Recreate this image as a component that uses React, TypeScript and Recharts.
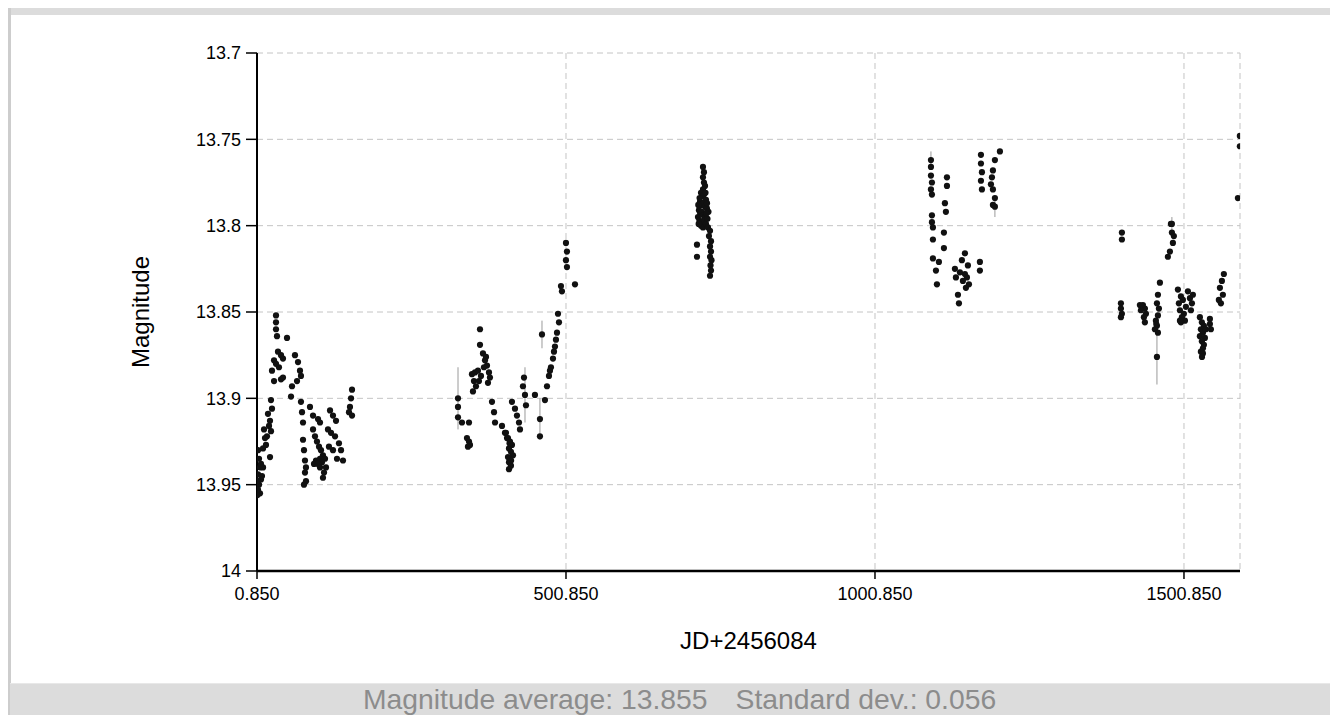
import React from 'react';
import { ScatterChart, Scatter, XAxis, YAxis, CartesianGrid, ErrorBar, Label } from 'recharts';

const FONT = '"Liberation Sans", Arial, Helvetica, sans-serif';

type P = [number, number];

// Season 1 (JD offset, magnitude)
const season1: P[] = [
  [31.6, 13.852], [31.6, 13.856], [31.6, 13.86], [33.2, 13.864], [49.4, 13.865],
  [28.4, 13.878], [34.8, 13.873], [39.7, 13.875], [42.9, 13.877], [31.6, 13.88], [36.4, 13.882],
  [62.3, 13.875], [67.2, 13.879], [70.4, 13.884], [65.6, 13.89], [72.0, 13.887],
  [25.1, 13.884], [28.4, 13.89], [39.7, 13.889], [42.9, 13.888],
  [57.5, 13.893], [55.9, 13.899],
  [23.5, 13.901], [25.1, 13.906],
  [72.0, 13.902], [73.7, 13.908], [75.3, 13.914],
  [18.6, 13.909], [21.9, 13.913], [20.3, 13.916], [23.5, 13.919], [17.0, 13.922],
  [12.2, 13.918], [13.8, 13.923], [15.4, 13.927], [10.6, 13.929],
  [2.5, 13.93], [4.1, 13.935], [5.7, 13.94], [2.5, 13.944], [7.3, 13.947], [4.1, 13.95],
  [2.5, 13.953], [5.7, 13.955], [8.9, 13.945], [7.3, 13.938], [10.6, 13.94], [1.2, 13.948], [1.5, 13.956],
  [21.9, 13.934],
  [75.3, 13.924], [76.9, 13.93], [78.5, 13.936], [80.1, 13.94],
  [78.5, 13.943], [80.1, 13.948], [76.9, 13.95],
  [86.6, 13.905], [91.5, 13.91], [99.6, 13.912], [102.8, 13.914],
  [91.5, 13.918], [94.7, 13.922], [97.9, 13.925], [101.2, 13.928], [104.4, 13.93], [107.6, 13.933],
  [96.3, 13.936], [102.8, 13.935], [110.9, 13.935], [93.1, 13.938], [106.0, 13.937], [99.6, 13.938],
  [112.5, 13.94], [102.8, 13.94], [109.3, 13.943], [107.6, 13.946],
  [119.0, 13.907], [123.8, 13.91], [128.7, 13.913], [115.7, 13.918], [120.6, 13.92], [127.1, 13.922],
  [133.5, 13.926], [123.8, 13.93], [136.8, 13.93], [130.3, 13.935], [140.0, 13.936], [117.3, 13.928],
  [154.6, 13.895], [153.0, 13.9], [151.3, 13.905], [149.7, 13.908], [154.6, 13.91],
];

// Season 2
const season2: P[] = [
  [326.1, 13.905], [326.1, 13.911], [332.5, 13.914],
  [343.9, 13.914], [340.6, 13.923], [343.9, 13.925], [345.5, 13.927], [342.2, 13.928],
  [348.7, 13.886], [351.9, 13.89], [355.2, 13.893], [350.3, 13.896], [353.6, 13.885],
  [358.4, 13.884], [363.3, 13.887], [360.0, 13.89],
  [361.7, 13.86], [361.7, 13.869],
  [366.5, 13.874], [369.8, 13.878], [373.0, 13.881], [376.2, 13.885], [368.1, 13.882], [377.8, 13.888], [371.4, 13.876],
  [374.6, 13.891],
  [381.1, 13.902], [384.4, 13.908], [386.0, 13.914],
  [397.3, 13.916], [402.1, 13.92], [405.4, 13.923],
  [403.7, 13.92], [407.0, 13.923], [410.2, 13.925], [413.4, 13.927], [408.6, 13.929], [411.8, 13.931],
  [415.1, 13.933], [410.2, 13.935], [408.6, 13.937], [411.8, 13.939], [408.6, 13.941], [407.0, 13.934],
  [412.0, 13.936], [409.5, 13.926],
  [413.4, 13.902], [418.3, 13.906], [421.5, 13.91], [424.8, 13.914], [426.4, 13.918],
  [432.9, 13.888], [436.1, 13.904], [431.2, 13.893],
  [450.6, 13.898],
  [458.7, 13.922],
  [466.8, 13.901], [470.1, 13.893], [473.3, 13.887], [476.5, 13.882], [479.8, 13.877], [474.9, 13.884], [481.4, 13.873],
  [484.6, 13.866], [486.3, 13.862], [483.0, 13.87],
  [487.9, 13.851], [489.5, 13.856],
  [492.7, 13.835], [494.3, 13.838],
  [500.8, 13.81], [502.4, 13.815], [500.8, 13.82], [502.4, 13.824],
  [515.4, 13.834],
];

// Season 3
const season3: P[] = [
  [722.5, 13.766], [724.1, 13.769], [722.5, 13.772], [724.1, 13.775], [725.8, 13.777], [722.5, 13.779],
  [719.3, 13.781], [720.9, 13.783], [724.1, 13.782], [727.4, 13.785], [717.7, 13.786], [719.3, 13.788],
  [722.5, 13.787], [725.8, 13.789], [728.9, 13.79], [716.0, 13.791], [718.0, 13.793], [720.9, 13.792],
  [723.3, 13.794], [726.0, 13.795], [714.4, 13.795], [716.8, 13.797], [720.0, 13.798], [724.1, 13.797],
  [719.3, 13.8], [722.5, 13.801], [727.4, 13.799], [730.6, 13.801], [733.9, 13.803], [732.2, 13.806],
  [735.5, 13.809], [733.9, 13.812], [735.5, 13.815], [733.9, 13.818], [736.3, 13.82], [734.7, 13.823],
  [735.5, 13.826], [733.9, 13.829], [712.8, 13.811], [712.8, 13.818], [731.4, 13.792], [729.8, 13.796],
  [714.9, 13.788], [717.0, 13.784], [726.6, 13.781], [729.0, 13.787], [715.5, 13.799], [728.2, 13.793],
];

// Season 4
const season4: P[] = [
  [1091.4, 13.766], [1091.4, 13.771], [1093.0, 13.775], [1091.4, 13.779], [1093.0, 13.782],
  [1093.0, 13.794], [1093.0, 13.798], [1094.6, 13.801], [1094.6, 13.808],
  [1094.6, 13.819], [1104.3, 13.821], [1099.5, 13.826], [1101.1, 13.834],
  [1117.3, 13.772], [1117.3, 13.777], [1114.0, 13.787], [1115.6, 13.792],
  [1112.4, 13.804], [1112.4, 13.813],
  [1146.4, 13.816], [1141.5, 13.82], [1151.2, 13.823], [1130.2, 13.825], [1138.3, 13.827], [1149.6, 13.83],
  [1131.8, 13.83], [1143.1, 13.832], [1152.9, 13.834], [1135.1, 13.84], [1136.7, 13.845], [1146.4, 13.828],
  [1148.0, 13.836],
  [1170.6, 13.821], [1170.6, 13.826],
  [1172.3, 13.759], [1172.3, 13.764], [1173.9, 13.769], [1172.3, 13.774], [1173.9, 13.779],
  [1194.9, 13.762], [1191.7, 13.768], [1190.1, 13.772], [1188.5, 13.776], [1191.7, 13.779], [1194.9, 13.784],
  [1191.7, 13.788],
  [1203.0, 13.757],
];

// Season 5
const season5: P[] = [
  [1400.4, 13.804], [1400.4, 13.808],
  [1398.8, 13.845], [1398.8, 13.848], [1400.4, 13.851], [1398.8, 13.853],
  [1429.5, 13.846], [1434.4, 13.846], [1437.6, 13.848], [1431.2, 13.849], [1439.3, 13.851], [1436.0, 13.853], [1437.6, 13.856],
  [1461.9, 13.833], [1458.7, 13.84], [1457.1, 13.845], [1460.3, 13.848], [1458.7, 13.852], [1455.4, 13.855],
  [1457.1, 13.858], [1453.8, 13.86], [1458.7, 13.862], [1456.0, 13.857],
  [1479.7, 13.799], [1481.3, 13.804], [1484.5, 13.806], [1482.9, 13.81], [1478.1, 13.815], [1474.8, 13.818],
  [1491.0, 13.837], [1495.9, 13.841], [1492.6, 13.845], [1499.1, 13.843], [1494.3, 13.849], [1500.7, 13.851],
  [1497.5, 13.853], [1504.0, 13.847], [1507.2, 13.838], [1510.5, 13.842], [1513.7, 13.845], [1512.1, 13.849],
  [1502.4, 13.855], [1495.9, 13.856], [1515.3, 13.84], [1494.3, 13.855],
  [1526.6, 13.853], [1529.8, 13.856], [1533.1, 13.858], [1528.2, 13.86], [1531.5, 13.862], [1526.6, 13.864],
  [1534.7, 13.865], [1529.8, 13.867], [1533.1, 13.869], [1531.5, 13.871], [1528.2, 13.873], [1531.5, 13.874],
  [1536.3, 13.86], [1530.0, 13.876],
  [1542.8, 13.854], [1542.8, 13.857], [1544.4, 13.86],
  [1565.4, 13.828], [1562.2, 13.832], [1559.0, 13.836], [1563.8, 13.84], [1557.3, 13.843], [1560.6, 13.845],
  [1591.3, 13.748], [1591.3, 13.754], [1588.1, 13.784],
];

// Points drawn with visible error bars: [JD, magnitude, error]
const errorPoints: [number, number, number][] = [
  [326.1, 13.9, 0.018],
  [434.5, 13.898, 0.016],
  [458.7, 13.912, 0.012],
  [462.0, 13.863, 0.008],
  [1091.4, 13.762, 0.005],
  [1194.9, 13.789, 0.006],
  [1457.1, 13.876, 0.016],
  [1481.3, 13.799, 0.004],
];

const xTicks = [0.85, 500.85, 1000.85, 1500.85];
const yTicks = [13.7, 13.75, 13.8, 13.85, 13.9, 13.95, 14];
const xDomain: [number, number] = [0.85, 1591.5];
const yDomain: [number, number] = [13.7, 14];
const xLabel = 'JD+2456084';
const yLabel = 'Magnitude';
const statAverage = 'Magnitude average: 13.855';
const statStd = 'Standard dev.: 0.056';

const points = [...season1, ...season2, ...season3, ...season4, ...season5].map(([x, y]) => ({ x, y }));
const errRows = errorPoints.map(([x, y, err]) => ({ x, y, err }));

const Dot = (p: any) => <circle cx={p.cx} cy={p.cy} r={3.1} fill="#111" />;

export default function App() {
  return (
    <div style={{ position: 'relative', width: 1330, height: 707, overflow: 'hidden', background: '#fff', fontFamily: FONT }}>
      <div style={{ position: 'absolute', left: 0, top: 0 }}>
        <ScatterChart width={1330} height={675} margin={{ top: 45, right: 98, bottom: 0, left: 0 }}>
          <CartesianGrid strokeDasharray="6 4" stroke="#c4c4c4" strokeWidth={1} />
          <XAxis
            type="number"
            dataKey="x"
            domain={xDomain}
            ticks={xTicks}
            interval={0}
            allowDataOverflow
            tickFormatter={(v: number) => v.toFixed(3)}
            height={112}
            tickSize={8}
            tickMargin={8}
            axisLine={{ stroke: '#000', strokeWidth: 2.5 }}
            tickLine={{ stroke: '#000', strokeWidth: 1.5 }}
            tick={{ fontSize: 18, fill: '#000', fontFamily: FONT }}
          >
            <Label value={xLabel} position="insideTop" offset={61} style={{ fontSize: 24, fill: '#000', fontFamily: FONT }} />
          </XAxis>
          <YAxis
            type="number"
            dataKey="y"
            domain={yDomain}
            ticks={yTicks}
            interval={0}
            reversed
            allowDataOverflow
            tickFormatter={(v: number) => String(Number(v.toFixed(2)))}
            width={249}
            tickSize={11}
            tickMargin={5}
            axisLine={{ stroke: '#000', strokeWidth: 2 }}
            tickLine={{ stroke: '#000', strokeWidth: 1.5 }}
            tick={{ fontSize: 18, fill: '#000', fontFamily: FONT }}
          >
            <Label value={yLabel} angle={-90} position="insideLeft" offset={132} style={{ textAnchor: 'middle', fontSize: 24, fill: '#000', fontFamily: FONT }} />
          </YAxis>
          <Scatter data={points} shape={Dot} isAnimationActive={false} />
          <Scatter data={errRows} shape={Dot} isAnimationActive={false}>
            <ErrorBar dataKey="err" direction="y" width={0} stroke="#9a9a9a" strokeWidth={1} isAnimationActive={false} />
          </Scatter>
        </ScatterChart>
      </div>
      <div style={{ position: 'absolute', left: 0, top: 0, width: 1330, height: 7, background: '#dcdcdc' }} />
      <div style={{ position: 'absolute', left: 0, top: 0, width: 3, height: 707, background: '#cdcdcd' }} />
      <div style={{ position: 'absolute', left: 2, top: 675, width: 1328, height: 32, background: '#dcdcdc', borderTop: '1px solid #e8e8e8', boxSizing: 'border-box' }}>
        <span style={{ position: 'absolute', left: 353, top: -1, fontSize: 28.3, lineHeight: '32px', color: '#8c8c8c', whiteSpace: 'nowrap' }}>
          {statAverage}
          <span style={{ marginLeft: 28 }}>{statStd}</span>
        </span>
      </div>
    </div>
  );
}
